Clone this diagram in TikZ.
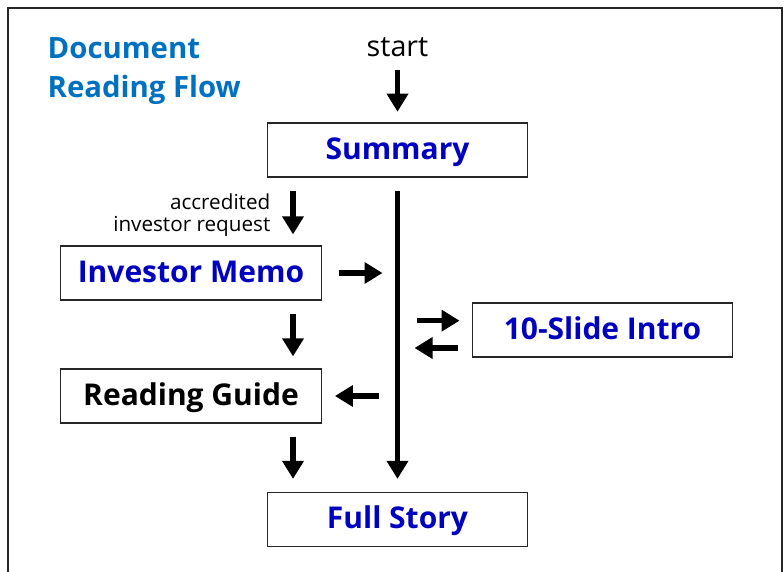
\documentclass[tikz,border=0pt]{standalone}
\usepackage{fontspec}
\setmainfont{Open Sans}
\usepackage{xcolor}
\usepackage{tikz}
\usetikzlibrary{arrows.meta,calc,positioning}

\definecolor{titleblue}{RGB}{0,112,192}
\definecolor{boxblue}{RGB}{0,0,192}

\begin{document}
\begin{tikzpicture}[x=0.75pt,y=-0.75pt]

\tikzset{docbox/.style = {draw=black!85,line width=0.9pt,minimum width=195.5pt,minimum height=40.5pt,inner sep=0pt,text height=15pt,text depth=1pt,font=\fontsize{22.5}{26}\selectfont\bfseries}}
\tikzset{arr/.style = {-{Triangle[width=15.5pt,length=13.5pt]},line width=4pt}}

\useasboundingbox (0,0) rectangle (784,571);
\draw[line width=1pt,black!85] (8,8) rectangle (782,600);

% title and start
\node[anchor=west,align=left,text=titleblue,font=\fontsize{22}{29.5}\selectfont\bfseries] (title) at (43,71) {Document\\Reading Flow};
\node[font=\fontsize{21.5}{25}\selectfont] (start) at (397.5,47) {start};

% boxes
\node[docbox,text=boxblue] (summary) at (397.5,150) {Summary};
\node[docbox,text=boxblue] (memo) at (191,273) {Investor Memo};
\node[docbox] (guide) at (191,396) {Reading Guide};
\node[docbox,text=boxblue] (intro) at (602.5,330) {10-Slide Intro};
\node[docbox,text=boxblue] (full) at (397.5,519.5) {Full Story};

\node[anchor=east,align=right,font=\fontsize{15.5}{17}\selectfont] (request) at (275,215) {accredited\\investor request};

% spine
\coordinate (spine) at (397.5,0);
\coordinate (lane) at (293,0);

% edges
\draw[arr,shorten <=6.5pt,shorten >=8pt] (start.south) -- (summary.north);
\draw[arr,shorten <=9.75pt,shorten >=8.25pt] (summary.south -| lane) -- (memo.north -| lane);
\draw[arr,shorten <=9.75pt,shorten >=9pt] (memo.south -| lane) -- (guide.north -| lane);
\draw[arr,shorten <=9.75pt,shorten >=9.75pt] (guide.south -| lane) -- (full.north -| lane);
\draw[arr,shorten <=9.75pt,shorten >=9.75pt] (summary.south) -- (full.north);
\draw[arr,shorten <=12.75pt,shorten >=11.25pt] (memo.east) -- (memo.east -| spine);
\draw[arr,shorten <=14.25pt,shorten >=9pt] ([yshift=7pt]intro.west -| spine) -- ([yshift=7pt]intro.west);
\draw[arr,shorten <=10.5pt,shorten >=12.75pt] ([yshift=-13.5pt]intro.west) -- ([yshift=-13.5pt]intro.west -| spine);
\draw[arr,shorten <=14.25pt,shorten >=9.75pt] (guide.east -| spine) -- (guide.east);
\end{tikzpicture}
\end{document}
